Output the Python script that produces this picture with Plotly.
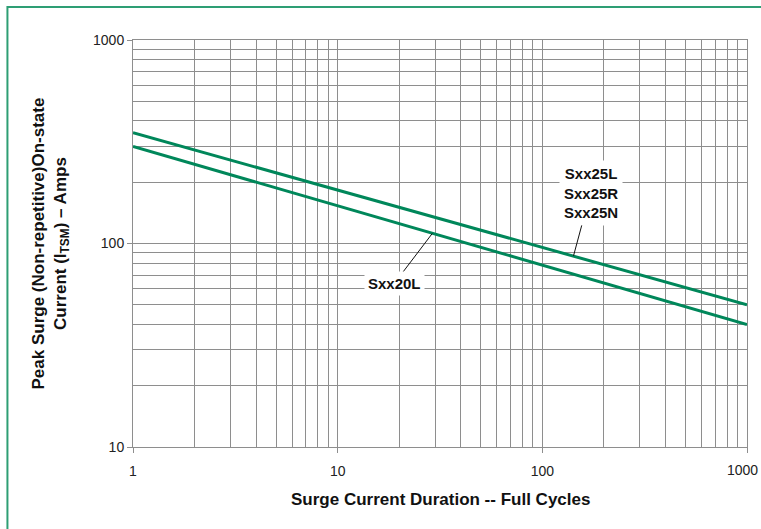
import numpy as np
import plotly.graph_objects as go

# ---- data ----
cycles = [1, 10, 100, 1000]
sxx25 = [350, 183, 96, 50]     # Sxx25L / Sxx25R / Sxx25N
sxx20 = [300, 153, 78, 40]     # Sxx20L

x_ticks = [1, 10, 100, 1000]
x_tick_text = ["1", "10", "100", "1000"]
y_ticks = [10, 100, 1000]
y_tick_text = ["10", "100", "1000"]

label_25 = "Sxx25L<br>Sxx25R<br>Sxx25N"
label_20 = "Sxx20L"
x_title = "Surge Current Duration -- Full Cycles"
y_title = "Peak Surge (Non-repetitive)On-state<br>Current (I<sub>TSM</sub>) – Amps"

GREEN = "#00875a"
GRID = "#8e8e8e"
FONT = "Liberation Sans, Arial, sans-serif"


def interp_loglog(xs, ys, x):
    return 10 ** np.interp(np.log10(x), np.log10(xs), np.log10(ys))


minor_vals = [m * d for d in [1, 10, 100] for m in range(2, 10)]
minor_y = [m * d for d in [10, 100] for m in range(2, 10)]

fig = go.Figure()
fig.add_trace(go.Scatter(x=cycles, y=sxx25, mode="lines",
                         line=dict(color=GREEN, width=3), showlegend=False,
                         name="Sxx25", hoverinfo="skip"))
fig.add_trace(go.Scatter(x=cycles, y=sxx20, mode="lines",
                         line=dict(color=GREEN, width=3), showlegend=False,
                         name="Sxx20L", hoverinfo="skip"))

axis_common = dict(
    type="log", showgrid=True, gridcolor=GRID, gridwidth=1,
    showline=True, linecolor=GRID, linewidth=1, mirror=True,
    ticks="outside", ticklen=5, tickcolor=GRID, zeroline=False,
    tickfont=dict(family=FONT, size=14, color="#222"),
)

# the last x tick label sits on the window edge; it is drawn as an annotation
x_axis_text = x_tick_text[:-1] + [" "]

fig.update_xaxes(range=[0, 3], tickmode="array", tickvals=x_ticks,
                 ticktext=x_axis_text, ticklabelstandoff=6,
                 minor=dict(tickmode="array", tickvals=minor_vals, showgrid=True,
                            gridcolor=GRID, gridwidth=1, ticks=""),
                 **axis_common)
fig.update_yaxes(range=[1, 3], tickmode="array", tickvals=y_ticks,
                 ticktext=y_tick_text,
                 minor=dict(tickmode="array", tickvals=minor_y, showgrid=True,
                            gridcolor=GRID, gridwidth=1, ticks=""),
                 **axis_common)

# points where the leader lines touch the series
p25x = 142
p25y = interp_loglog(cycles, sxx25, p25x)
p20x = 29
p20y = interp_loglog(cycles, sxx20, p20x)

annotations = [
    dict(x=np.log10(p25x), y=np.log10(p25y), xref="x", yref="y",
         text="<b>" + label_25 + "</b>", showarrow=True, arrowhead=0,
         arrowwidth=1, arrowcolor="#111", ax=17, ay=-63, standoff=0,
         bgcolor="white", borderpad=4, align="center",
         font=dict(family=FONT, size=15, color="#111")),
    dict(x=np.log10(p20x), y=np.log10(p20y), xref="x", yref="y",
         text="<b>" + label_20 + "</b>", showarrow=True, arrowhead=0,
         arrowwidth=1, arrowcolor="#111", ax=-38, ay=50, standoff=0,
         bgcolor="white", borderpad=3,
         font=dict(family=FONT, size=15, color="#111")),
    dict(x=np.log10(x_ticks[-1]), y=0, xref="x", yref="paper", yshift=-23,
         xshift=-5, text=x_tick_text[-1], showarrow=False, xanchor="center",
         yanchor="middle", font=dict(family=FONT, size=14, color="#222")),
    dict(x=0.5, y=0, xref="paper", yref="paper", yshift=-52,
         text="<b>" + x_title + "</b>", showarrow=False,
         xanchor="center", yanchor="middle",
         font=dict(family=FONT, size=17, color="#111")),
    dict(x=0, y=0.5, xref="paper", yref="paper", xshift=-83,
         text="<b>" + y_title + "</b>", showarrow=False, textangle=-90,
         xanchor="center", yanchor="middle",
         font=dict(family=FONT, size=17, color="#111")),
]

fig.update_layout(
    width=761, height=529,
    margin=dict(l=133, r=12, t=40, b=82),
    paper_bgcolor="white", plot_bgcolor="white",
    annotations=annotations,
    hovermode=False,
    shapes=[dict(type="rect", xref="paper", yref="paper",
                 x0=-0.2045, x1=1.2, y0=-0.4, y1=1.081,
                 line=dict(color="#2e9e74", width=2), layer="below")],
)

fig.write_html("out.html", config={"displayModeBar": False},
               post_script="document.body.style.margin='0';")
